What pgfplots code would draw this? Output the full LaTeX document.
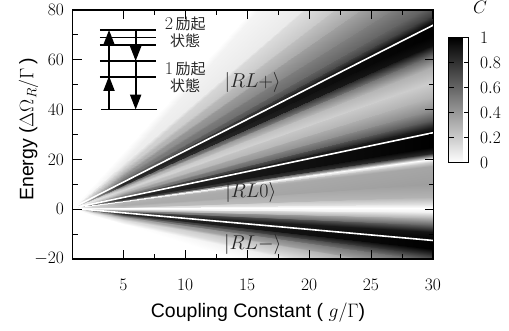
\RequirePackage{fix-cm}
\documentclass[border=0pt]{standalone}
\usepackage{fontspec}
\setsansfont{Liberation Sans}
\newfontfamily\cjk{Noto Sans CJK JP}
\usepackage{pgfplots}
\usepackage{pgfplotstable}
\pgfplotsset{compat=1.18}
\usetikzlibrary{arrows.meta}

% fan-shaped mesh: each ray = 4 points (x = 0.9, 2.5, 5, 30), value C
\pgfplotstableread{
x y c
0.9 0.67 0
2.5 9.43 0
5 23.12 0
30 160 0
0.9 0.61 0
2.5 7.45 0.03
5 18.14 0.07
30 125 0.09
0.9 0.59 0
2.5 6.60 0.099
5 16.00 0.187
30 110 0.22
0.9 0.57 0
2.5 6.04 0.158
5 14.58 0.298
30 100 0.35
0.9 0.55 0
2.5 5.47 0.225
5 13.16 0.425
30 90 0.5
0.9 0.54 0
2.5 5.02 0.279
5 12.02 0.527
30 82 0.62
0.9 0.53 0
2.5 4.79 0.338
5 11.45 0.638
30 78 0.75
0.9 0.53 0
2.5 4.65 0.414
5 11.09 0.782
30 75.5 0.92
0.9 0.53 0
2.5 4.56 0.45
5 10.86 0.85
30 73.9 1
0.9 0.52 0
2.5 4.34 0.45
5 10.31 0.85
30 70 1
0.9 0.51 0
2.5 4.11 0.428
5 9.74 0.808
30 66 0.95
0.9 0.51 0
2.5 3.89 0.27
5 9.17 0.51
30 62 0.6
0.9 0.50 0
2.5 3.60 0.144
5 8.46 0.272
30 57 0.32
0.9 0.49 0
2.5 3.26 0.09
5 7.60 0.17
30 51 0.2
0.9 0.48 0
2.5 2.92 0.135
5 6.75 0.255
30 45 0.3
0.9 0.47 0
2.5 2.64 0.203
5 6.04 0.383
30 40 0.45
0.9 0.46 0
2.5 2.41 0.293
5 5.47 0.553
30 36 0.65
0.9 0.46 0
2.5 2.25 0.396
5 5.04 0.748
30 33 0.88
0.9 0.45 0
2.5 2.11 0.45
5 4.71 0.85
30 30.7 1
0.9 0.44 0
2.5 1.79 0.45
5 3.90 0.85
30 25 1
0.9 0.44 0
2.5 1.65 0.383
5 3.55 0.723
30 22.5 0.85
0.9 0.44 0
2.5 1.57 0.135
5 3.33 0.255
30 21 0.3
0.9 0.43 0
2.5 1.51 0
5 3.19 0
30 20 0
0.9 0.43 0
2.5 1.45 0.09
5 3.05 0.17
30 19 0.2
0.9 0.43 0
2.5 1.37 0.158
5 2.83 0.298
30 17.5 0.35
0.9 0.42 0
2.5 0.94 0.171
5 1.77 0.323
30 10 0.38
0.9 0.41 0
2.5 0.66 0.135
5 1.05 0.255
30 5 0.3
0.9 0.40 0
2.5 0.49 0.054
5 0.63 0.102
30 2 0.12
0.9 0.40 0
2.5 0.40 0
5 0.40 0
30 0.4 0
0.9 0.40 0
2.5 0.31 0.023
5 0.17 0.043
30 -1.2 0.05
0.9 0.39 0
2.5 0.18 0.135
5 -0.16 0.255
30 -3.5 0.3
0.9 0.39 0
2.5 0.01 0.27
5 -0.58 0.51
30 -6.5 0.6
0.9 0.38 0
2.5 -0.13 0.414
5 -0.94 0.782
30 -9 0.92
0.9 0.38 0
2.5 -0.34 0.45
5 -1.45 0.85
30 -12.6 1
0.9 0.37 0
2.5 -0.53 0.45
5 -1.93 0.85
30 -16 1
0.9 0.37 0
2.5 -0.67 0.36
5 -2.29 0.68
30 -18.5 0.8
0.9 0.36 0
2.5 -0.81 0.27
5 -2.65 0.51
30 -21 0.6
0.9 0.36 0
2.5 -1.04 0.18
5 -3.22 0.34
30 -25 0.4
0.9 0.34 0
2.5 -1.43 0.068
5 -4.21 0.128
30 -32 0.15
0.9 0.32 0
2.5 -2.17 0
5 -6.06 0
30 -45 0
}\fanmesh

\begin{document}
\begin{tikzpicture}
\useasboundingbox (0,0) rectangle (509pt,331pt);
\begin{axis}[
  at={(72.5pt,72pt)}, anchor=south west,
  scale only axis, width=361pt, height=249pt,
  xmin=0.9, xmax=30.05, ymin=-20, ymax=80,
  xtick={5,10,15,20,25,30}, ytick={-20,0,20,40,60,80},
  minor x tick num=1, minor y tick num=1,
  tick align=inside, major tick length=9pt, minor tick length=5pt,
  axis line style={line width=1.1pt},
  every tick/.style={black, line width=0.8pt},
  tick label style={font=\fontsize{17.5}{20}\selectfont},
  xticklabel style={font=\fontsize{17.5}{20}\selectfont, yshift=-17pt},
  yticklabel style={font=\fontsize{17.5}{20}\selectfont, xshift=-5pt},
  xlabel={\sffamily Coupling Constant ( $g/\Gamma$)},
  ylabel={\sffamily Energy ($\Delta\Omega_R/\Gamma$\,)},
  label style={font=\fontsize{19.5}{21}\selectfont},
  xlabel style={at={(axis description cs:0.514,-0.217)}, anchor=center},
  ylabel style={at={(axis description cs:-0.122,0.52)}, anchor=center},
  colormap={bw}{gray(0cm)=(1); gray(1cm)=(0)},
  point meta min=0, point meta max=1,
  colorbar,
  colorbar style={
    at={(1.042,0.888)}, anchor=north west,
    scale only axis, width=20pt, height=125pt,
    ytick={0,0.2,0.4,0.6,0.8,1},
    yticklabel pos=right, ytick pos=both,
    tick align=inside, major tick length=5pt,
    every tick/.style={black, line width=0.8pt},
    axis line style={line width=0.8pt},
    tick label style={font=\fontsize{17.5}{20}\selectfont},
    yticklabel style={font=\fontsize{17.5}{20}\selectfont, xshift=8pt},
    title={$C$},
    title style={at={(axis description cs:1.05,1.2)}, anchor=west, yshift=0pt, font=\fontsize{18}{20}\selectfont},
  },
  axis on top,
]
\addplot[surf, shader=interp, mesh/rows=40, mesh/cols=4, mesh/check=false,
  point meta=explicit] table[x=x, y=y, meta=c] {\fanmesh};

\addplot[white, line width=1.6pt] coordinates {(0.85,0.4) (30.1,74.1)};
\addplot[white, line width=1.6pt] coordinates {(0.85,0.4) (30.1,30.8)};
\addplot[white, line width=1.6pt] coordinates {(0.85,0.4) (30.1,-12.6)};

% inset energy-level diagram
\addplot[black, line width=1.6pt] coordinates {(3.11,72) (7.65,72)};
\addplot[black, line width=1.6pt] coordinates {(3.11,69) (7.65,69)};
\addplot[black, line width=1.6pt] coordinates {(3.11,66) (7.65,66)};
\addplot[black, line width=1.6pt] coordinates {(3.11,59.5) (7.65,59.5)};
\addplot[black, line width=1.6pt] coordinates {(3.11,53) (7.65,53)};
\addplot[black, line width=1.6pt] coordinates {(3.2,40) (7.7,40)};
\addplot[black, line width=2pt, -{Triangle[length=15pt,width=11pt]}] coordinates {(3.85,40) (3.85,53.5)};
\addplot[black, line width=2pt, -{Triangle[length=15pt,width=11pt]}] coordinates {(3.85,53) (3.85,72)};
\addplot[black, line width=2pt, -{Triangle[length=15pt,width=11pt]}] coordinates {(6,72) (6,59.5)};
\addplot[black, line width=2pt, -{Triangle[length=15pt,width=11pt]}] coordinates {(6,59.5) (6,40)};

\node[align=center, font=\fontsize{15}{16.5}\selectfont, text=black!85] at (axis cs:10.0,71) {{\fontsize{18}{16.5}\selectfont 2}\,{\cjk 励起}\\{\cjk 状態}};
\node[align=center, font=\fontsize{15}{16.5}\selectfont, text=black!85] at (axis cs:10.0,53) {{\fontsize{18}{16.5}\selectfont 1}\,{\cjk 励起}\\{\cjk 状態}};

\node[font=\fontsize{20}{22}\selectfont, text=black!85] at (axis cs:15.45,50.7) {$|RL{+}\rangle$};
\node[font=\fontsize{20}{22}\selectfont, text=black!85] at (axis cs:15.3,6.7) {$|RL0\rangle$};
\node[font=\fontsize{20}{22}\selectfont, text=black!85] at (axis cs:15.45,-14) {$|RL{-}\rangle$};
\end{axis}
\end{tikzpicture}
\end{document}
